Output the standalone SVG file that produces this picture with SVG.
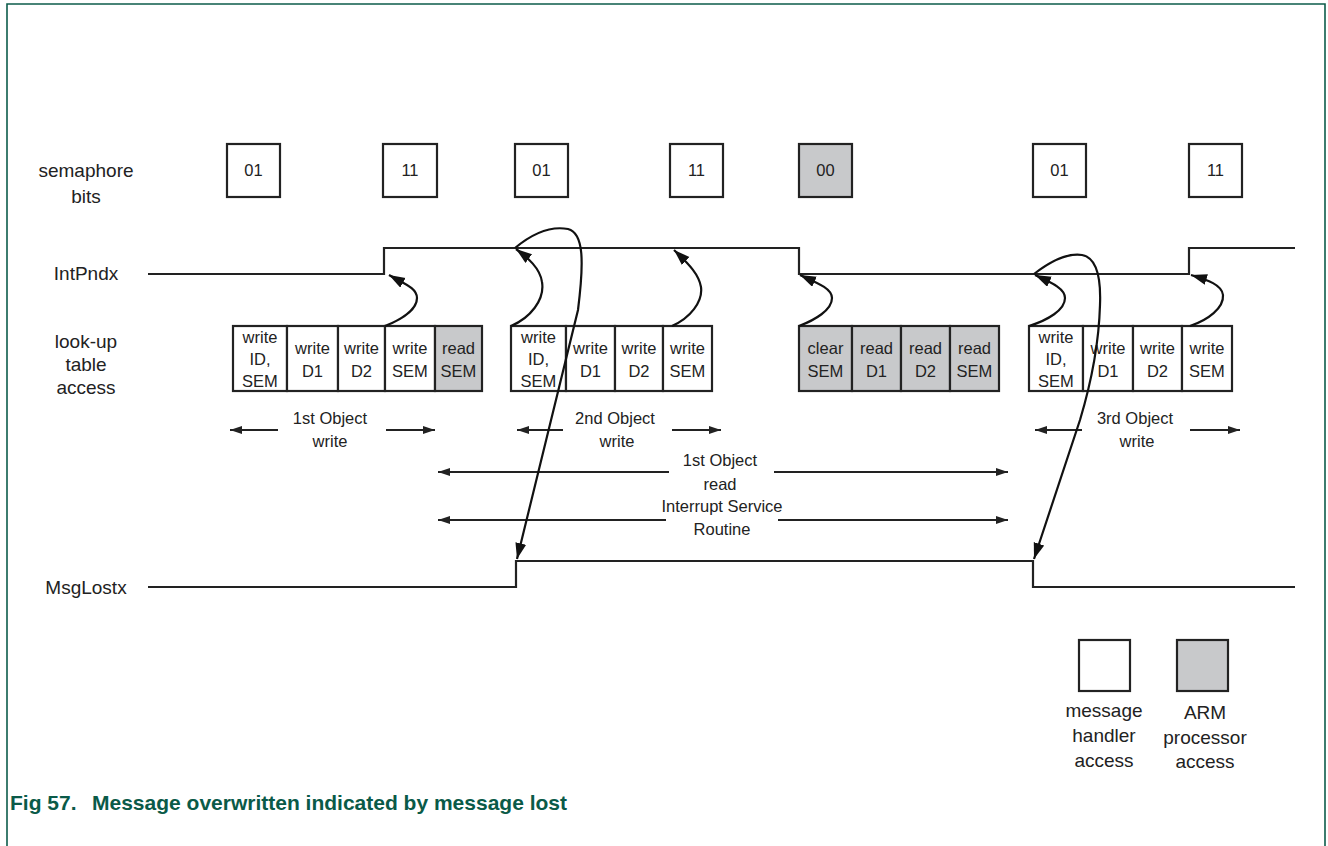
<svg xmlns="http://www.w3.org/2000/svg" width="1328" height="846" viewBox="0 0 1328 846">
<defs>
<style>
.bx{fill:#fff;stroke:#222;stroke-width:2.2}
.gy{fill:#c8c9cb;stroke:#222;stroke-width:2.2}
.sig{fill:none;stroke:#222;stroke-width:2.2}
.dim{fill:none;stroke:#222;stroke-width:2}
.cv{fill:none;stroke:#111;stroke-width:2.2}
.t{font-family:"Liberation Sans",Arial,sans-serif;font-size:16.5px;fill:#222;text-anchor:middle}
.l{font-family:"Liberation Sans",Arial,sans-serif;font-size:19px;fill:#222;text-anchor:middle}
.cap{font-family:"Liberation Sans",Arial,sans-serif;font-size:21px;font-weight:bold;fill:#0a5a48}
</style>
<marker id="ah" markerUnits="userSpaceOnUse" markerWidth="14" markerHeight="10" refX="12" refY="4" orient="auto"><path d="M0,0 L12,4 L0,8 Z" fill="#222"/></marker>
<marker id="ch" markerUnits="userSpaceOnUse" markerWidth="18" markerHeight="12" refX="16" refY="5.5" orient="auto"><path d="M0,0 L16,5.5 L0,11 Z" fill="#111"/></marker>
</defs>
<rect width="1328" height="846" fill="#fff"/>
<path d="M7,846 V4 H1325 V846" fill="none" stroke="#0d5c4b" stroke-width="1.6"/>

<g id="labels">
<text class="l" x="86" y="177">semaphore</text>
<text class="l" x="86" y="203">bits</text>
<text class="l" x="86" y="280">IntPndx</text>
<text class="l" x="86" y="348">look-up</text>
<text class="l" x="86" y="371">table</text>
<text class="l" x="86" y="394">access</text>
<text class="l" x="86" y="594">MsgLostx</text>
</g>

<g id="sem1"><rect class="bx" x="227" y="144" width="53" height="53"/><text class="t" x="253.5" y="176">01</text></g>
<g id="sem2"><rect class="bx" x="383" y="144" width="54" height="53"/><text class="t" x="410" y="176">11</text></g>
<g id="sem3"><rect class="bx" x="515" y="144" width="53" height="53"/><text class="t" x="541.5" y="176">01</text></g>
<g id="sem4"><rect class="bx" x="670" y="144" width="53" height="53"/><text class="t" x="696.5" y="176">11</text></g>
<g id="sem5"><rect class="gy" x="799" y="144" width="53" height="53"/><text class="t" x="825.5" y="176">00</text></g>
<g id="sem6"><rect class="bx" x="1033" y="144" width="53" height="53"/><text class="t" x="1059.5" y="176">01</text></g>
<g id="sem7"><rect class="bx" x="1189" y="144" width="53" height="53"/><text class="t" x="1215.5" y="176">11</text></g>

<g id="signals">
<path class="sig" d="M148,274 H384 V248 H799 V274 H1189 V248 H1295"/>
<path class="sig" d="M148,587 H516 V561 H1033 V587 H1295"/>
</g>

<g id="lut1">
<rect class="bx" x="233" y="326" width="54" height="65"/><text class="t" x="260" y="343">write</text><text class="t" x="260" y="365">ID,</text><text class="t" x="260" y="387">SEM</text>
<rect class="bx" x="287" y="326" width="51" height="65"/><text class="t" x="312.5" y="354">write</text><text class="t" x="312.5" y="377">D1</text>
<rect class="bx" x="338" y="326" width="47" height="65"/><text class="t" x="361.5" y="354">write</text><text class="t" x="361.5" y="377">D2</text>
<rect class="bx" x="385" y="326" width="50" height="65"/><text class="t" x="410" y="354">write</text><text class="t" x="410" y="377">SEM</text>
<rect class="gy" x="435" y="326" width="47" height="65"/><text class="t" x="458.5" y="354">read</text><text class="t" x="458.5" y="377">SEM</text>
</g>
<g id="lut2">
<rect class="bx" x="511" y="326" width="55" height="65"/><text class="t" x="538.5" y="343">write</text><text class="t" x="538.5" y="365">ID,</text><text class="t" x="538.5" y="387">SEM</text>
<rect class="bx" x="566" y="326" width="49" height="65"/><text class="t" x="590.5" y="354">write</text><text class="t" x="590.5" y="377">D1</text>
<rect class="bx" x="615" y="326" width="48" height="65"/><text class="t" x="639" y="354">write</text><text class="t" x="639" y="377">D2</text>
<rect class="bx" x="663" y="326" width="49" height="65"/><text class="t" x="687.5" y="354">write</text><text class="t" x="687.5" y="377">SEM</text>
</g>
<g id="lut3">
<rect class="gy" x="799" y="326" width="53" height="65"/><text class="t" x="825.5" y="354">clear</text><text class="t" x="825.5" y="377">SEM</text>
<rect class="gy" x="852" y="326" width="49" height="65"/><text class="t" x="876.5" y="354">read</text><text class="t" x="876.5" y="377">D1</text>
<rect class="gy" x="901" y="326" width="49" height="65"/><text class="t" x="925.5" y="354">read</text><text class="t" x="925.5" y="377">D2</text>
<rect class="gy" x="950" y="326" width="49" height="65"/><text class="t" x="974.5" y="354">read</text><text class="t" x="974.5" y="377">SEM</text>
</g>
<g id="lut4">
<rect class="bx" x="1029" y="326" width="54" height="65"/><text class="t" x="1056" y="343">write</text><text class="t" x="1056" y="365">ID,</text><text class="t" x="1056" y="387">SEM</text>
<rect class="bx" x="1083" y="326" width="50" height="65"/><text class="t" x="1108" y="354">write</text><text class="t" x="1108" y="377">D1</text>
<rect class="bx" x="1133" y="326" width="49" height="65"/><text class="t" x="1157.5" y="354">write</text><text class="t" x="1157.5" y="377">D2</text>
<rect class="bx" x="1182" y="326" width="50" height="65"/><text class="t" x="1207" y="354">write</text><text class="t" x="1207" y="377">SEM</text>
</g>

<g id="spans">
<text class="t" x="330" y="424">1st Object</text><text class="t" x="330" y="447">write</text>
<text class="t" x="615" y="424">2nd Object</text><text class="t" x="617" y="447">write</text>
<text class="t" x="1135" y="424">3rd Object</text><text class="t" x="1137" y="447">write</text>
<text class="t" x="720" y="466">1st Object</text><text class="t" x="720" y="490">read</text>
<text class="t" x="722" y="512">Interrupt Service</text><text class="t" x="722" y="535">Routine</text>
</g>

<g id="connectors">
<path class="dim" marker-end="url(#ah)" d="M278,430 H230"/>
<path class="dim" marker-end="url(#ah)" d="M386,430 H435"/>
<path class="dim" marker-end="url(#ah)" d="M563,430 H517"/>
<path class="dim" marker-end="url(#ah)" d="M672,430 H721"/>
<path class="dim" marker-end="url(#ah)" d="M1082,430 H1035"/>
<path class="dim" marker-end="url(#ah)" d="M1190,430 H1240"/>
<path class="dim" marker-end="url(#ah)" d="M669,472 H438"/>
<path class="dim" marker-end="url(#ah)" d="M774,472 H1008"/>
<path class="dim" marker-end="url(#ah)" d="M666,520 H438"/>
<path class="dim" marker-end="url(#ah)" d="M778,520 H1008"/>

<path class="cv" marker-end="url(#ch)" d="M385,326 C400,320 417,310 417,298 C417,288 405,284 389,275"/>
<path class="cv" marker-end="url(#ch)" d="M511,326 C530,318 545,300 542,282 C540,268 528,258 516,249"/>
<path class="cv" marker-end="url(#ch)" d="M672,326 C690,318 703,302 701,287 C699,275 690,265 674,250"/>
<path class="cv" marker-end="url(#ch)" d="M799,326 C815,320 832,310 832,298 C832,288 815,282 800,275"/>
<path class="cv" marker-end="url(#ch)" d="M1029,326 C1048,320 1065,310 1065,298 C1065,288 1050,282 1035,275"/>
<path class="cv" marker-end="url(#ch)" d="M1190,326 C1208,320 1224,308 1223,295 C1222,285 1208,280 1191,275"/>
<path class="cv" marker-end="url(#ch)" d="M515,248 C533,233 552,226 568,229 C584,233 584,262 578,310 L517,559"/>
<path class="cv" marker-end="url(#ch)" d="M1034,274 C1052,260 1068,253 1082,255 C1098,258 1101,280 1100,305 C1099,340 1092,380 1080,420 L1034,559"/>
</g>

<g id="legend">
<rect class="bx" x="1079" y="640" width="51" height="51"/>
<rect class="gy" x="1177" y="640" width="51" height="51"/>
<text class="l" x="1104" y="717">message</text><text class="l" x="1104" y="742">handler</text><text class="l" x="1104" y="767">access</text>
<text class="l" x="1205" y="719">ARM</text><text class="l" x="1205" y="744">processor</text><text class="l" x="1205" y="768">access</text>
</g>

<text class="cap" x="10" y="810">Fig 57.<tspan x="92">Message overwritten indicated by message lost</tspan></text>
</svg>
